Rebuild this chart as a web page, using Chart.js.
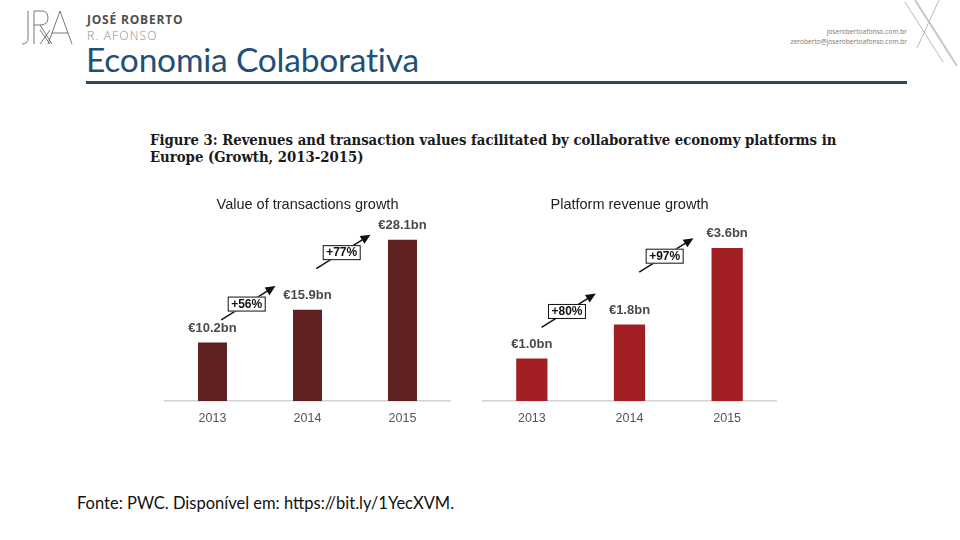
<!DOCTYPE html>
<html>
<head>
<meta charset="utf-8">
<script src="https://cdn.jsdelivr.net/npm/chart.js@4.4.1/dist/chart.umd.min.js"></script>
<style>
  html, body { margin: 0; padding: 0; background: #fff; }
  #slide { position: relative; width: 960px; height: 540px; overflow: hidden; background: #fff; }
  .abs { position: absolute; white-space: nowrap; }
  #brand1 { left: 87px; top: 11px; font: 700 12px 'Open Sans', sans-serif; color: #4d4d4d; letter-spacing: 0.8px; }
  #brand2 { left: 87px; top: 27px; font: 300 12px 'Open Sans', sans-serif; color: #8a8a8a; letter-spacing: 1.2px; }
  #title { left: 86px; top: 39px; font: 400 33.5px 'Lato', sans-serif; color: #1f4f7b; letter-spacing: -0.2px; }
  #rule { left: 86px; top: 81px; width: 821px; height: 3px; background: #2b4a62; }
  #site { right: 53px; top: 27px; font: 400 6.6px 'Open Sans', sans-serif; color: #777; text-align: right; line-height: 10px; }
  #fig { left: 150px; top: 131px; font-family: 'DejaVu Serif Condensed', 'DejaVu Serif', serif; font-stretch: condensed;
         font-weight: 700; font-size: 14.75px; color: #1a1a1a; line-height: 17px; }
  #src { left: 77px; top: 493px; font: 400 16.5px 'Lato', sans-serif; color: #111; }
  #c1 { left: 160px; top: 190px; }
  #c2 { left: 478px; top: 190px; }
</style>
</head>
<body>
<div id="slide">
  <svg class="abs" style="left:18px;top:8px" width="60" height="40" viewBox="0 0 60 40">
    <g stroke="#555" stroke-width="0.8" fill="none">
      <path d="M10 3 V30 Q10 36 4 36"/>
      <path d="M16 3 V36 M16 3 H24 Q30 3 30 10 Q30 17 22 17 H16 M22 17 L34 36"/>
      <path d="M30 36 L42 3 L54 36 M34 25 H50"/>
      <path d="M22 22 L32 36 M32 22 L22 36"/>
    </g>
  </svg>
  <div id="brand1" class="abs">JOSÉ ROBERTO</div>
  <div id="brand2" class="abs">R. AFONSO</div>
  <div id="title" class="abs">Economia Colaborativa</div>
  <div id="rule" class="abs"></div>
  <div id="site" class="abs">joserobertoafonso.com.br<br>zeroberto@joserobertoafonso.com.br</div>
  <svg class="abs" style="left:895px;top:0" width="65" height="75">
    <line x1="10" y1="2" x2="48" y2="62" stroke="#999" stroke-width="0.7"/>
    <line x1="44" y1="0" x2="22" y2="48" stroke="#999" stroke-width="0.7"/>
    <line x1="20" y1="0" x2="62" y2="66" stroke="#c8c8c8" stroke-width="2"/>
  </svg>
  <div id="fig" class="abs">Figure 3: Revenues and transaction values facilitated by collaborative economy platforms in<br>Europe (Growth, 2013-2015)</div>
  <canvas id="c1" class="abs" width="300" height="251"></canvas>
  <canvas id="c2" class="abs" width="302" height="251"></canvas>
  <div id="src" class="abs">Fonte: PWC. Disponível em: https://bit.ly/1YecXVM.</div>
</div>
<script>
// Dados
const years = ['2013', '2014', '2015'];
const transactionValues = [10.2, 15.9, 28.1];   // € bilhões
const transactionGrowth = ['+56%', '+77%'];
const revenueValues = [1.0, 1.8, 3.6];          // € bilhões
const revenueGrowth = ['+80%', '+97%'];

const FONT = "'Liberation Sans', Arial, sans-serif";

// Plugin: rótulos de valor sobre as barras e setas de crescimento entre elas
const growthPlugin = {
  id: 'growthLabels',
  afterDatasetsDraw(chart, args, opts) {
    const ctx = chart.ctx;
    const bars = chart.getDatasetMeta(0).data;
    const values = chart.data.datasets[0].data;
    ctx.save();
    ctx.textAlign = 'center';
    ctx.textBaseline = 'middle';
    ctx.fillStyle = '#4a4a4a';
    ctx.font = 'bold 13px ' + FONT;
    bars.forEach((bar, i) => {
      ctx.fillText('€' + values[i].toFixed(1) + 'bn', bar.x, bar.y - 14);
    });

    const step = bars.length > 1 ? bars[1].x - bars[0].x : 0;
    const ang = -32 * Math.PI / 180;
    for (let i = 0; i < bars.length - 1; i++) {
      const a = bars[i], b = bars[i + 1];
      const cx = (a.x + b.x) / 2 - 0.14 * step;
      const cy = (a.y + b.y) / 2 - opts.lift;
      const x0 = cx - 30 * Math.cos(ang), y0 = cy - 30 * Math.sin(ang);
      const x1 = cx + 34 * Math.cos(ang), y1 = cy + 34 * Math.sin(ang);
      ctx.strokeStyle = '#111';
      ctx.fillStyle = '#111';
      ctx.lineWidth = 1.5;
      ctx.beginPath();
      ctx.moveTo(x0, y0);
      ctx.lineTo(x1 - 6 * Math.cos(ang), y1 - 6 * Math.sin(ang));
      ctx.stroke();
      // ponta da seta
      ctx.beginPath();
      ctx.moveTo(x1, y1);
      ctx.lineTo(x1 - 10 * Math.cos(ang) + 4.5 * Math.sin(ang), y1 - 10 * Math.sin(ang) - 4.5 * Math.cos(ang));
      ctx.lineTo(x1 - 10 * Math.cos(ang) - 4.5 * Math.sin(ang), y1 - 10 * Math.sin(ang) + 4.5 * Math.cos(ang));
      ctx.closePath();
      ctx.fill();
      // caixa com a variação
      const w = 38, h = 15;
      ctx.fillStyle = '#fff';
      ctx.fillRect(cx - w / 2, cy - h / 2, w, h);
      ctx.lineWidth = 1;
      ctx.strokeRect(cx - w / 2 + 0.5, cy - h / 2 + 0.5, w - 1, h - 1);
      ctx.fillStyle = '#111';
      ctx.font = 'bold 12px ' + FONT;
      ctx.fillText(opts.labels[i], cx, cy + 0.5);
    }
    ctx.restore();
  }
};

function makeChart(id, title, values, growth, color, yMax, barPct, pad, lift) {
  return new Chart(document.getElementById(id), {
    type: 'bar',
    data: {
      labels: years,
      datasets: [{
        data: values,
        backgroundColor: color,
        borderWidth: 0,
        categoryPercentage: 1,
        barPercentage: barPct
      }]
    },
    plugins: [growthPlugin],
    options: {
      responsive: false,
      animation: false,
      events: [],
      layout: { padding: { left: pad.left, right: pad.right, top: 0, bottom: 5 } },
      plugins: {
        legend: { display: false },
        tooltip: { enabled: false },
        title: {
          display: true,
          text: title,
          color: '#222',
          font: { family: FONT, size: 14.5, weight: 'normal' },
          padding: { top: 6, bottom: 9 }
        },
        growthLabels: { labels: growth, lift: lift }
      },
      scales: {
        x: {
          grid: { display: false, drawTicks: false },
          border: { display: true, color: '#d2d2d2', width: 1.5 },
          ticks: { color: '#555', font: { family: FONT, size: 12.5 }, padding: 10 }
        },
        y: { display: false, min: 0, max: yMax }
      }
    }
  });
}

makeChart('c1', 'Value of transactions growth', transactionValues, transactionGrowth,
  '#5f2121', 31.1, 0.305, { left: 5, right: 10 }, 22);
makeChart('c2', 'Platform revenue growth', revenueValues, revenueGrowth,
  '#a11e23', 4.2, 0.32, { left: 5, right: 4 }, 30);
</script>
</body>
</html>
